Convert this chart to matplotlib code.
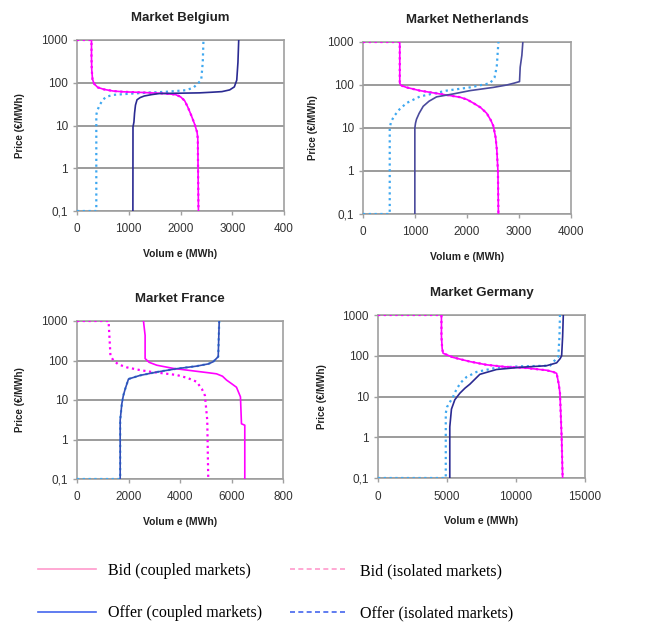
import matplotlib
matplotlib.use("Agg")
import matplotlib.pyplot as plt
from matplotlib.lines import Line2D

# ---------------- data ----------------
price_ticks = [0.1, 1, 10, 100, 1000]
price_ticklabels = ["0,1", "1", "10", "100", "1000"]

# Belgium
be_bid_c_vol = [280, 280, 285, 300, 330, 400, 520, 700, 887, 1300, 1700, 1900, 2000, 2080, 2141, 2210, 2270, 2320, 2334, 2347]
be_bid_c_pr  = [1000, 400, 200, 120, 95, 78, 70, 64, 61.5, 59, 56, 53, 47, 38, 27, 17, 11, 7, 5, 0.1]
be_bid_i_vol = [0, 275] + be_bid_c_vol
be_bid_i_pr  = [1000, 1000] + be_bid_c_pr
be_off_c_vol = [1080, 1082, 1100, 1112, 1130, 1160, 1220, 1300, 1450, 1595, 2000, 2367, 2600, 2800, 2950, 3040, 3087, 3110, 3125]
be_off_c_pr  = [0.1, 9.3, 12, 19.3, 30, 40, 45, 49, 53, 56, 57, 58, 60, 62, 68, 80, 115, 300, 1000]
be_off_i_vol = [0, 373, 373, 390, 437, 500, 566, 700, 1080, 1400, 1723, 2109, 2250, 2302, 2400, 2430, 2444]
be_off_i_pr  = [0.1, 0.1, 17.7, 22, 30, 40, 47, 52, 56, 59, 61.5, 67, 77, 88, 115, 300, 1000]

# Netherlands
nl_bid_c_vol = [707, 707, 730, 836, 1093, 1479, 1865, 2000, 2122, 2260, 2379, 2460, 2508, 2550, 2572, 2595, 2604]
nl_bid_c_pr  = [1000, 110, 98, 88, 74, 62, 52, 46, 38, 30, 22, 15, 11, 6, 3.3, 1, 0.1]
nl_bid_i_vol = [0] + nl_bid_c_vol
nl_bid_i_pr  = [1000] + nl_bid_c_pr
nl_off_c_vol = [997, 997, 1010, 1029, 1080, 1158, 1270, 1415, 1736, 2058, 2508, 2765, 2900, 3010, 3023, 3055, 3074]
nl_off_c_pr  = [0.1, 10, 13, 16, 22, 32, 42, 53, 62, 74, 88, 100, 110, 120, 260, 490, 1000]
nl_off_i_vol = [0, 514, 514, 540, 600, 700, 836, 1093, 1608, 2058, 2444, 2530, 2572, 2604]
nl_off_i_pr  = [0.1, 0.1, 10, 14, 19, 27, 38, 54, 74, 88, 110, 150, 265, 1000]

# France
fr_bid_c_vol = [2581, 2645, 2645, 2800, 3097, 3742, 4774, 5100, 5419, 5650, 5806, 6000, 6194, 6348, 6387, 6516, 6516]
fr_bid_c_pr  = [1000, 433, 112, 90, 76, 63, 52, 49, 46, 40, 32, 26, 21, 12, 2.5, 2.3, 0.1]
fr_bid_i_vol = [0, 1226, 1300, 1419, 1600, 1935, 2400, 2839, 3871, 4300, 4645, 4850, 4968, 5058, 5097]
fr_bid_i_pr  = [1000, 1000, 130, 100, 80, 67, 58, 52, 43, 36, 29, 19, 13, 3.1, 0.1]
fr_off_c_vol = [1677, 1677, 1742, 1800, 1871, 2000, 2452, 3097, 3871, 4645, 5100, 5290, 5484, 5523]
fr_off_c_pr  = [0.1, 3.1, 8.1, 13, 19, 34, 42, 51, 62, 72, 82, 93, 125, 1000]
fr_off_i_vol = [0] + fr_off_c_vol
fr_off_i_pr  = [0.1] + fr_off_c_pr

# Germany
de_bid_c_vol = [4597, 4597, 4650, 4718, 5444, 6653, 7863, 9073, 10766, 12218, 12700, 12944, 13100, 13186, 13307, 13379]
de_bid_c_pr  = [1000, 300, 150, 115, 91, 72, 60, 54, 50, 44, 40, 37, 20, 12, 1.0, 0.1]
de_bid_i_vol = [0] + de_bid_c_vol
de_bid_i_pr  = [1000] + de_bid_c_pr
de_off_c_vol = [5202, 5202, 5323, 5565, 5928, 6300, 6653, 7379, 8589, 10282, 12218, 12944, 13200, 13307, 13379, 13428]
de_off_c_pr  = [0.1, 1.8, 4.9, 8.3, 12, 16, 20, 35, 46, 52, 57, 67, 85, 100, 295, 1000]
de_off_i_vol = [0, 4911, 4911, 5000, 5202, 5450, 5686, 6000, 6411, 7137, 8589, 10282, 12460, 13065, 13150, 13186]
de_off_i_pr  = [0.1, 0.1, 3.9, 5.5, 7.2, 10, 15, 22, 30, 40, 51, 55, 57, 96, 300, 1000]

markets = [
    ("Market Belgium", [0, 1000, 2000, 3000, 4000], ["0", "1000", "2000", "3000", "400"],
     be_bid_c_vol, be_bid_c_pr, be_bid_i_vol, be_bid_i_pr,
     be_off_c_vol, be_off_c_pr, be_off_i_vol, be_off_i_pr),
    ("Market Netherlands", [0, 1000, 2000, 3000, 4000], ["0", "1000", "2000", "3000", "4000"],
     nl_bid_c_vol, nl_bid_c_pr, nl_bid_i_vol, nl_bid_i_pr,
     nl_off_c_vol, nl_off_c_pr, nl_off_i_vol, nl_off_i_pr),
    ("Market France", [0, 2000, 4000, 6000, 8000], ["0", "2000", "4000", "6000", "800"],
     fr_bid_c_vol, fr_bid_c_pr, fr_bid_i_vol, fr_bid_i_pr,
     fr_off_c_vol, fr_off_c_pr, fr_off_i_vol, fr_off_i_pr),
    ("Market Germany", [0, 5000, 10000, 15000], ["0", "5000", "10000", "15000"],
     de_bid_c_vol, de_bid_c_pr, de_bid_i_vol, de_bid_i_pr,
     de_off_c_vol, de_off_c_pr, de_off_i_vol, de_off_i_pr),
]

legend_labels = ["Bid (coupled markets)", "Offer (coupled markets)",
                 "Bid (isolated markets)", "Offer (isolated markets)"]

# ---------------- style ----------------
W, H = 645, 627
plt.rcParams['font.family'] = ['Liberation Sans', 'DejaVu Sans']
fig = plt.figure(figsize=(W / 100, H / 100), dpi=100)

# axes boxes in pixels: left, right, top, bottom
boxes = [(77, 284, 40, 211), (363, 571, 42, 214), (77, 283, 321, 479), (378, 585, 315, 478)]
ylabel_x = [20, 313, 20, 322]
offer_colors = ["#2a2a92", "#4a4a9c", "#3350b8", "#2a2a92"]

BID = "#ff00ff"
OFF_I = "#3fa8f0"
GRID = "#8a8a8a"
FRAME = "#a0a0a0"
TXT = "#333333"

for (title, xt, xtl, bcv, bcp, biv, bip, ocv, ocp, oiv, oip), (l, r, t, b), ylx, oc in zip(markets, boxes, ylabel_x, offer_colors):
    ax = fig.add_axes([l / W, 1 - b / H, (r - l) / W, (b - t) / H])
    ax.set_yscale("log")
    ax.set_ylim(0.1, 1000)
    ax.set_xlim(xt[0], xt[-1])
    ax.plot(biv, bip, color=BID, lw=1.6, ls=(0, (1, 1.6)), zorder=3)
    ax.plot(oiv, oip, color=OFF_I, lw=1.6, ls=(0, (1, 1.6)), zorder=3)
    ax.plot(bcv, bcp, color=BID, lw=1.2, zorder=4)
    ax.plot(ocv, ocp, color=oc, lw=1.2, zorder=4)
    ax.set_yticks(price_ticks)
    ax.set_yticklabels(price_ticklabels)
    ax.minorticks_off()
    ax.set_xticks(xt)
    ax.set_xticklabels(xtl)
    ax.yaxis.grid(True, color=GRID, lw=1.2)
    ax.set_axisbelow(True)
    for s in ax.spines.values():
        s.set_color(FRAME)
        s.set_linewidth(1.2)
    ax.tick_params(axis="both", colors=FRAME, labelcolor=TXT, labelsize=8.5, length=3, width=1)
    ax.tick_params(axis="x", pad=6)
    ax.set_title(title, fontsize=9.5, fontweight="bold", color="#222222", pad=14)
    ax.set_xlabel("Volum e (MWh)", fontsize=7.5, fontweight="bold", color="#222222", labelpad=10)
    fig.text(ylx / W, 1 - ((t + b) / 2) / H, "Price (€/MWh)", rotation=90, fontsize=7,
             fontweight="bold", color="#222222", ha="center", va="center")

handles = [Line2D([], [], color="#ff99cc", lw=1.2),
           Line2D([], [], color="#4466ee", lw=1.2),
           Line2D([], [], color="#ff99cc", lw=1.2, ls=(0, (3, 2))),
           Line2D([], [], color="#4466ee", lw=1.2, ls=(0, (3, 2)))]
fig.legend(handles, legend_labels, ncol=2, loc="upper left",
           bbox_to_anchor=(38 / W, 1 - 563 / H), frameon=False,
           prop={"family": "Liberation Serif", "size": 11.5},
           handlelength=3.6, handletextpad=0.8, columnspacing=1.7,
           labelspacing=1.65, borderpad=0, borderaxespad=0)

fig.savefig("out.png", dpi=100)
